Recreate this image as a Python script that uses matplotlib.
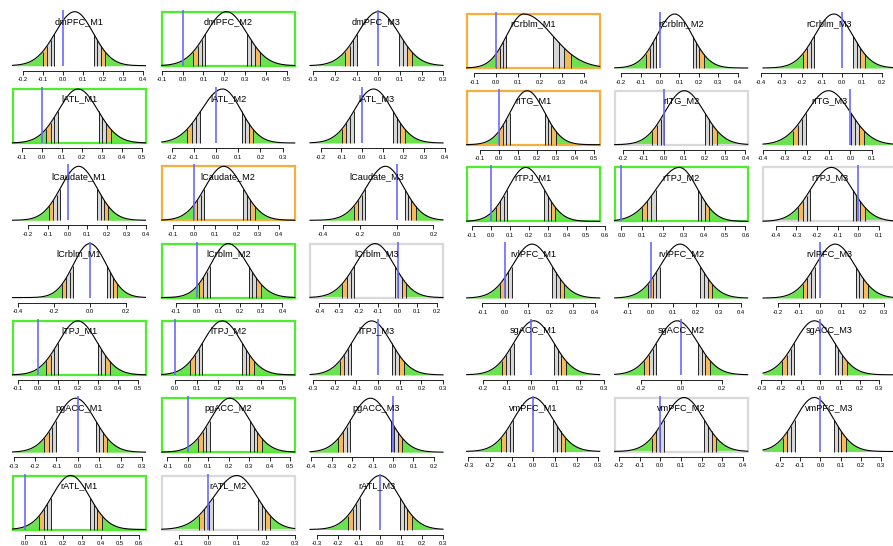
import numpy as np
import matplotlib
matplotlib.use("Agg")
import matplotlib.pyplot as plt
from matplotlib.patches import Rectangle

# ---------------- data (row-major order, 6 panels per row) ----------------
panel_names = [
    "dmPFC_M1", "dmPFC_M2", "dmPFC_M3", "rCrblm_M1", "rCrblm_M2", "rCrblm_M3",
    "lATL_M1", "lATL_M2", "lATL_M3", "rITG_M1", "rITG_M2", "rITG_M3",
    "lCaudate_M1", "lCaudate_M2", "lCaudate_M3", "rTPJ_M1", "rTPJ_M2", "rTPJ_M3",
    "lCrblm_M1", "lCrblm_M2", "lCrblm_M3", "rvlPFC_M1", "rvlPFC_M2", "rvlPFC_M3",
    "lTPJ_M1", "lTPJ_M2", "lTPJ_M3", "sgACC_M1", "sgACC_M2", "sgACC_M3",
    "pgACC_M1", "pgACC_M2", "pgACC_M3", "vmPFC_M1", "vmPFC_M2", "vmPFC_M3",
    "rATL_M1", "rATL_M2", "rATL_M3",
]
# posterior mode and left/right spread of each distribution
mode = [0.06, 0.21, 0.00, 0.125, 0.075, -0.04,
        0.18, 0.03, 0.055, 0.148, 0.10, -0.10,
        0.057, 0.14, -0.06, 0.185, 0.28, -0.13,
        0.00, 0.145, -0.115, 0.12, 0.13, 0.07,
        0.20, 0.22, -0.03, 0.01, -0.02, -0.03,
        -0.01, 0.205, -0.11, 0.00, 0.115, -0.03,
        0.24, 0.10, 0.00]
sd_left = [0.098, 0.097, 0.094, 0.077, 0.091, 0.094,
           0.097, 0.097, 0.093, 0.089, 0.095, 0.100,
           0.092, 0.089, 0.105, 0.095, 0.110, 0.099,
           0.093, 0.083, 0.102, 0.087, 0.087, 0.093,
           0.097, 0.090, 0.090, 0.081, 0.100, 0.100,
           0.090, 0.095, 0.095, 0.090, 0.095, 0.095,
           0.100, 0.080, 0.093]
sd_right = [0.092, 0.097, 0.094, 0.131, 0.091, 0.093,
            0.099, 0.083, 0.092, 0.091, 0.098, 0.099,
            0.092, 0.089, 0.100, 0.095, 0.088, 0.099,
            0.093, 0.093, 0.097, 0.087, 0.087, 0.093,
            0.097, 0.090, 0.090, 0.081, 0.100, 0.100,
            0.090, 0.095, 0.095, 0.090, 0.095, 0.095,
            0.100, 0.070, 0.093]
# x extent of each density curve
range_lo = [-0.251, -0.100, -0.315, -0.135, -0.234, -0.391,
            -0.146, -0.245, -0.252, -0.170, -0.241, -0.400,
            -0.280, -0.152, -0.469, -0.126, -0.032, -0.462,
            -0.432, -0.167, -0.448, -0.170, -0.160, -0.270,
            -0.128, -0.062, -0.315, -0.268, -0.330, -0.292,
            -0.305, -0.128, -0.405, -0.308, -0.221, -0.285,
            -0.066, -0.160, -0.333]
range_hi = [0.413, 0.537, 0.299, 0.472, 0.452, 0.268,
            0.516, 0.355, 0.391, 0.530, 0.411, 0.209,
            0.397, 0.473, 0.252, 0.574, 0.611, 0.183,
            0.311, 0.458, 0.232, 0.420, 0.430, 0.357,
            0.540, 0.557, 0.300, 0.283, 0.330, 0.385,
            0.316, 0.522, 0.244, 0.307, 0.424, 0.375,
            0.634, 0.300, 0.300]
tick_values = [
    [-0.2, -0.1, 0.0, 0.1, 0.2, 0.3, 0.4], [-0.1, 0.0, 0.1, 0.2, 0.3, 0.4, 0.5],
    [-0.3, -0.2, -0.1, 0.0, 0.1, 0.2, 0.3], [-0.1, 0.0, 0.1, 0.2, 0.3, 0.4],
    [-0.2, -0.1, 0.0, 0.1, 0.2, 0.3, 0.4], [-0.4, -0.3, -0.2, -0.1, 0.0, 0.1, 0.2],
    [-0.1, 0.0, 0.1, 0.2, 0.3, 0.4, 0.5], [-0.2, -0.1, 0.0, 0.1, 0.2, 0.3],
    [-0.2, -0.1, 0.0, 0.1, 0.2, 0.3, 0.4], [-0.1, 0.0, 0.1, 0.2, 0.3, 0.4, 0.5],
    [-0.2, -0.1, 0.0, 0.1, 0.2, 0.3, 0.4], [-0.4, -0.3, -0.2, -0.1, 0.0, 0.1],
    [-0.2, -0.1, 0.0, 0.1, 0.2, 0.3, 0.4], [-0.1, 0.0, 0.1, 0.2, 0.3, 0.4],
    [-0.4, -0.2, 0.0, 0.2], [-0.1, 0.0, 0.1, 0.2, 0.3, 0.4, 0.5, 0.6],
    [0.0, 0.1, 0.2, 0.3, 0.4, 0.5, 0.6], [-0.4, -0.3, -0.2, -0.1, 0.0, 0.1],
    [-0.4, -0.2, 0.0, 0.2], [-0.1, 0.0, 0.1, 0.2, 0.3, 0.4],
    [-0.4, -0.3, -0.2, -0.1, 0.0, 0.1, 0.2], [-0.1, 0.0, 0.1, 0.2, 0.3, 0.4],
    [-0.1, 0.0, 0.1, 0.2, 0.3, 0.4], [-0.2, -0.1, 0.0, 0.1, 0.2, 0.3],
    [-0.1, 0.0, 0.1, 0.2, 0.3, 0.4, 0.5], [0.0, 0.1, 0.2, 0.3, 0.4, 0.5],
    [-0.3, -0.2, -0.1, 0.0, 0.1, 0.2, 0.3], [-0.2, -0.1, 0.0, 0.1, 0.2, 0.3],
    [-0.2, 0.0, 0.2], [-0.3, -0.2, -0.1, 0.0, 0.1, 0.2, 0.3],
    [-0.3, -0.2, -0.1, 0.0, 0.1, 0.2, 0.3], [-0.1, 0.0, 0.1, 0.2, 0.3, 0.4, 0.5],
    [-0.4, -0.3, -0.2, -0.1, 0.0, 0.1, 0.2], [-0.3, -0.2, -0.1, 0.0, 0.1, 0.2, 0.3],
    [-0.2, -0.1, 0.0, 0.1, 0.2, 0.3, 0.4], [-0.2, -0.1, 0.0, 0.1, 0.2, 0.3],
    [0.0, 0.1, 0.2, 0.3, 0.4, 0.5, 0.6], [-0.1, 0.0, 0.1, 0.2, 0.3],
    [-0.3, -0.2, -0.1, 0.0, 0.1, 0.2, 0.3],
]
# credible level at which zero is excluded ("" = not excluded)
significance = ["", "95", "", "90", "", "",
                "95", "", "", "90", "80", "",
                "", "90", "", "95", "95", "80",
                "", "95", "80", "", "", "",
                "95", "95", "", "", "", "",
                "", "95", "", "", "80", "",
                "95", "80", ""]

# ---------------- layout / style ----------------
FIG_W, FIG_H = 893, 546
fig = plt.figure(figsize=(FIG_W / 100, FIG_H / 100), dpi=100)
plt.rcParams["axes.unicode_minus"] = False

col_left_px = [12.5, 161.7, 310.0, 466.7, 614.7, 763.0]
box_w_px = 133.0
box_h_px = 54.0


def box_top_px(r, c):
    return 11.7 + 77.3 * r if c < 3 else 14.0 + 76.7 * r


FILL_GREEN = "#6BE34F"
FILL_ORANGE = "#F6BA58"
FILL_GRAY = "#D6D6D6"
box_colors = {"95": "#4EEE2E", "90": "#F6AE3E", "80": "#D9D9D9"}
FONT = "Liberation Sans"
Z = [1.645, 1.405, 1.22, 1.036]

for i, name in enumerate(panel_names):
    r, c = divmod(i, 6)
    lo, hi = range_lo[i], range_hi[i]
    span = hi - lo
    m, sl, sr = mode[i], sd_left[i], sd_right[i]

    def dens(xx):
        xx = np.asarray(xx, dtype=float)
        s = np.where(xx < m, sl, sr)
        return np.exp(-0.5 * ((xx - m) / s) ** 2)

    bl = col_left_px[c]
    bt = box_top_px(r, c)
    pad_top, pad_bot = 2.0, 5.0
    ax_left = bl - 0.04 * box_w_px
    ax_w = box_w_px * 1.08
    ax_top = bt - pad_top
    ax_h = box_h_px + pad_top + pad_bot
    ax = fig.add_axes([ax_left / FIG_W, 1 - (ax_top + ax_h) / FIG_H,
                       ax_w / FIG_W, ax_h / FIG_H])
    ax.set_xlim(lo - 0.04 * span, hi + 0.04 * span)
    y_top = 1 + pad_top / box_h_px
    ax.set_ylim(-pad_bot / box_h_px, y_top)
    ax.patch.set_alpha(0)

    # tail bands
    left_b = [m - z * sl for z in Z]
    right_b = [m + z * sr for z in Z]

    def band(a, b, color):
        a, b = max(a, lo), min(b, hi)
        if b <= a:
            return
        xx = np.linspace(a, b, 80)
        ax.fill_between(xx, 0, dens(xx), color=color, lw=0)

    band(lo, left_b[0], FILL_GREEN)
    band(left_b[0], left_b[1], FILL_ORANGE)
    band(left_b[1], left_b[3], FILL_GRAY)
    band(right_b[3], right_b[1], FILL_GRAY)
    band(right_b[1], right_b[0], FILL_ORANGE)
    band(right_b[0], hi, FILL_GREEN)
    for b in left_b + right_b:
        if lo < b < hi:
            ax.vlines(b, 0, dens(b), color="#222222", lw=0.7)

    x = np.linspace(lo, hi, 600)
    ax.plot(x, dens(x), color="black", lw=0.8)

    if significance[i]:
        ax.add_patch(Rectangle((lo, 0), span, 1, fill=False,
                               ec=box_colors[significance[i]], lw=1.6, zorder=1))

    ax.vlines(0, 0, y_top, color="#6A6AFF", lw=1.2, zorder=3)

    ax.text(0.5 * (lo + hi), 1 - 10 / box_h_px, name, ha="center", va="center",
            fontsize=6.6, family=FONT, zorder=4)

    t = tick_values[i]
    ax.set_xticks(t)
    ax.set_xticklabels([f"{v:.1f}".replace("-0.0", "0.0") for v in t],
                       fontsize=4.2, family=FONT)
    ax.set_yticks([])
    for s in ("top", "left", "right"):
        ax.spines[s].set_visible(False)
    ax.spines["bottom"].set_bounds(t[0], t[-1])
    ax.spines["bottom"].set_linewidth(0.6)
    ax.tick_params(axis="x", direction="out", length=2.9, width=0.6, pad=1.8)

fig.savefig("out.png", dpi=100)
